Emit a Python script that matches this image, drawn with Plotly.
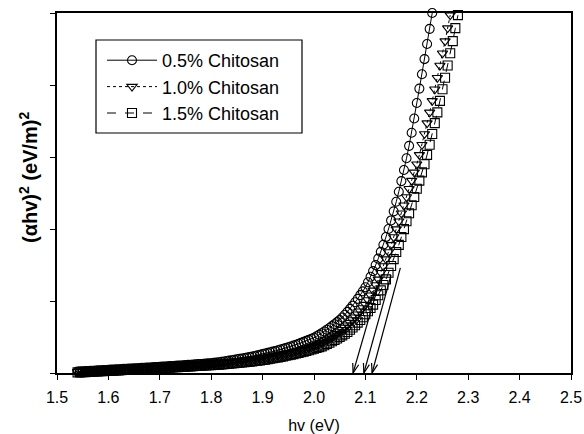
import math
import numpy as np
import plotly.graph_objects as go

# ---------------- data ----------------
energy_start = 1.54
energy_step = 0.005

chitosan_05 = [
    0.020, 0.022, 0.024, 0.026, 0.028, 0.030, 0.032, 0.034, 0.036, 0.038, 0.040, 0.042, 0.045,
    0.047, 0.049, 0.051, 0.053, 0.055, 0.057, 0.059, 0.061, 0.063, 0.065, 0.067, 0.069, 0.071, 0.073, 0.075, 0.077, 0.079, 0.081, 0.083, 0.085,
    0.088, 0.090, 0.093, 0.095, 0.098, 0.100, 0.103, 0.105, 0.108, 0.110, 0.113, 0.115, 0.118, 0.120, 0.123, 0.125, 0.128, 0.130, 0.133, 0.135,
    0.140, 0.145, 0.150, 0.155, 0.160, 0.166, 0.172, 0.178, 0.184, 0.190, 0.196, 0.202, 0.209, 0.216, 0.223, 0.230, 0.237, 0.245, 0.253, 0.262,
    0.270, 0.279, 0.288, 0.297, 0.306, 0.316, 0.326, 0.336, 0.347, 0.358, 0.369, 0.381, 0.393, 0.406, 0.419, 0.432, 0.446, 0.460, 0.475, 0.490,
    0.510, 0.531, 0.553, 0.576, 0.600, 0.625, 0.651, 0.678, 0.706, 0.735,
    0.771, 0.809, 0.849, 0.891, 0.935, 0.982, 1.030, 1.081, 1.134, 1.190,
    1.261, 1.336, 1.415, 1.499, 1.588, 1.682, 1.782, 1.888, 2.000, 2.119,
    2.245, 2.378, 2.518, 2.665, 2.820, 2.983, 3.155, 3.337, 3.535, 3.750,
    3.950, 4.150, 4.360, 4.570, 4.780, 5.000,
]

chitosan_10 = [
    0.015, 0.017, 0.019, 0.021, 0.023, 0.025, 0.027, 0.029, 0.031, 0.033, 0.035, 0.036, 0.038,
    0.040, 0.042, 0.044, 0.045, 0.047, 0.049, 0.051, 0.053, 0.055, 0.056, 0.058, 0.060, 0.062, 0.064, 0.066, 0.067, 0.069, 0.071, 0.073, 0.075,
    0.077, 0.080, 0.082, 0.084, 0.086, 0.089, 0.091, 0.093, 0.095, 0.098, 0.100, 0.102, 0.104, 0.107, 0.109, 0.111, 0.113, 0.116, 0.118, 0.120,
    0.123, 0.126, 0.129, 0.132, 0.135, 0.138, 0.141, 0.145, 0.149, 0.153, 0.157, 0.161, 0.165, 0.169, 0.173, 0.178, 0.183, 0.188, 0.194, 0.200,
    0.206, 0.213, 0.219, 0.226, 0.233, 0.241, 0.248, 0.256, 0.264, 0.272, 0.281, 0.289, 0.298, 0.308, 0.317, 0.327, 0.337, 0.348, 0.359, 0.370,
    0.386, 0.403, 0.421, 0.440, 0.459, 0.480, 0.501, 0.523, 0.546, 0.570,
    0.600, 0.631, 0.664, 0.699, 0.736, 0.774, 0.815, 0.858, 0.903, 0.950,
    1.013, 1.079, 1.148, 1.222, 1.300,
    1.392, 1.486, 1.582, 1.680, 1.780,
    1.888, 1.998, 2.108, 2.219, 2.330,
    2.444, 2.558, 2.672, 2.786, 2.900,
    3.030, 3.170, 3.320, 3.470, 3.620,
    3.780, 3.940, 4.100, 4.270, 4.440, 4.610, 4.790, 4.970,
]

chitosan_15 = [
    0.008, 0.009, 0.010,
    0.012, 0.014, 0.016, 0.018, 0.020, 0.022, 0.024, 0.026, 0.028, 0.030, 0.032, 0.033, 0.035,
    0.037, 0.039, 0.041, 0.042, 0.044, 0.046, 0.048, 0.050, 0.052, 0.053, 0.055, 0.057, 0.059, 0.061, 0.063, 0.064, 0.066, 0.068, 0.070, 0.072,
    0.074, 0.077, 0.079, 0.081, 0.083, 0.086, 0.088, 0.090, 0.092, 0.095, 0.097, 0.099, 0.101, 0.104, 0.106, 0.108, 0.110, 0.113, 0.115, 0.117,
    0.120, 0.123, 0.126, 0.129, 0.132, 0.135, 0.138, 0.142, 0.146, 0.150, 0.154, 0.158, 0.162, 0.166, 0.170, 0.175, 0.180, 0.185, 0.191, 0.197,
    0.204, 0.211, 0.217, 0.224, 0.231, 0.239, 0.246, 0.254, 0.262, 0.270, 0.279, 0.288, 0.297, 0.307, 0.317, 0.327, 0.337, 0.348, 0.359, 0.370,
    0.386, 0.403, 0.421, 0.440, 0.459, 0.480, 0.501, 0.523, 0.546, 0.570,
    0.600, 0.631, 0.664, 0.699, 0.736, 0.774, 0.815, 0.858, 0.903, 0.950,
    1.013, 1.079, 1.148, 1.222, 1.300,
    1.392, 1.486, 1.582, 1.680, 1.780,
    1.888, 1.998, 2.108, 2.219, 2.330,
    2.444, 2.558, 2.672, 2.786, 2.900,
    3.030, 3.170, 3.320, 3.470, 3.620,
    3.780, 3.940, 4.100, 4.270, 4.440, 4.610, 4.790, 4.970,
]

series_names = ["0.5% Chitosan", "1.0% Chitosan", "1.5% Chitosan"]
series_values = [chitosan_05, chitosan_10, chitosan_15]
series_symbols = ["circle-open", "triangle-down-open", "square-open"]
series_dash = ["solid", "dot", "dash"]

# tangent-line arrows (start on the curve -> band-gap intercept on the energy axis)
arrow_start_x = [2.131, 2.150, 2.168]
arrow_start_y = [1.36, 1.36, 1.46]
band_gap_eV = [2.076, 2.097, 2.113]

x_ticks = [1.5, 1.6, 1.7, 1.8, 1.9, 2.0, 2.1, 2.2, 2.3, 2.4, 2.5]
x_range = [1.5, 2.5]
y_range = [0, 5]

# ---------------- layout geometry ----------------
W, H = 584, 434
ML, MR, MT, MB = 57, 13, 13, 61
PW, PH = W - ML - MR, H - MT - MB
FONT = "Liberation Sans, Arial, sans-serif"


def px_x(p):  # pixel column -> paper x
    return (p - ML) / PW


def px_y(p):  # pixel row -> paper y
    return (H - MB - p) / PH


fig = go.Figure()

for name, vals, sym, dash in zip(series_names, series_values, series_symbols, series_dash):
    xs = np.round(energy_start + energy_step * np.arange(len(vals)), 3)
    fig.add_trace(go.Scatter(
        x=xs, y=vals, name=name, mode="lines+markers",
        line=dict(color="black", width=1, dash=dash),
        marker=dict(symbol=sym, size=9, color="black", line=dict(width=1.1, color="black")),
        cliponaxis=False, hoverinfo="skip",
    ))

# arrows with open V heads, computed in pixel space
kx = PW / (x_range[1] - x_range[0])
ky = PH / (y_range[1] - y_range[0])
head_len, head_ang = 10.0, math.radians(18)
for x0, y0, x1 in zip(arrow_start_x, arrow_start_y, band_gap_eV):
    y1 = 0.0
    dx, dy = (x1 - x0) * kx, (y1 - y0) * ky
    L = math.hypot(dx, dy)
    ux, uy = dx / L, dy / L
    arms = []
    for s in (1, -1):
        c, sn = math.cos(head_ang), math.sin(s * head_ang)
        rx = ux * c - uy * sn
        ry = ux * sn + uy * c
        arms.append((x1 - head_len * rx / kx, y1 - head_len * ry / ky))
    fig.add_trace(go.Scatter(
        x=[x0, x1, None, arms[0][0], x1, arms[1][0]],
        y=[y0, y1, None, arms[0][1], y1, arms[1][1]],
        mode="lines", line=dict(color="black", width=1.2),
        showlegend=False, hoverinfo="skip", cliponaxis=False,
    ))

axis_common = dict(
    showline=True, linecolor="black", linewidth=2, mirror=True,
    ticks="outside", ticklen=5, tickwidth=1, tickcolor="black",
    showgrid=False, zeroline=False, automargin=False,
)

fig.update_layout(
    width=W, height=H, autosize=False,
    margin=dict(l=ML, r=MR, t=MT, b=MB, autoexpand=False),
    paper_bgcolor="white", plot_bgcolor="white",
    font=dict(family=FONT, color="black", size=16),
    showlegend=True,
    legend=dict(
        x=px_x(102), y=px_y(42), xanchor="left", yanchor="top",
        borderwidth=0, bgcolor="rgba(0,0,0,0)",
        itemwidth=50,
        font=dict(family=FONT, size=18, color="black"),
    ),
    shapes=[dict(
        type="rect", xref="paper", yref="paper",
        x0=px_x(96), x1=px_x(302), y0=px_y(133), y1=px_y(40),
        line=dict(color="black", width=1.2), fillcolor="white", layer="above",
    )],
    xaxis=dict(range=x_range, tickvals=x_ticks, tickformat=".1f",
               ticklabelstandoff=4,
               title=dict(text="hv (eV)", font=dict(size=16), standoff=15),
               tickfont=dict(size=16), **axis_common),
    yaxis=dict(range=y_range, dtick=1, showticklabels=False, **axis_common),
    annotations=[dict(
        text="<b>(αhv)<sup>2</sup> (eV/m)<sup>2</sup></b>",
        textangle=-90, xref="paper", yref="paper", x=0, y=px_y(178),
        xanchor="center", yanchor="middle", xshift=-29, showarrow=False,
        font=dict(family=FONT, size=20, color="black"),
    )],
)

fig.write_html("out.html")
